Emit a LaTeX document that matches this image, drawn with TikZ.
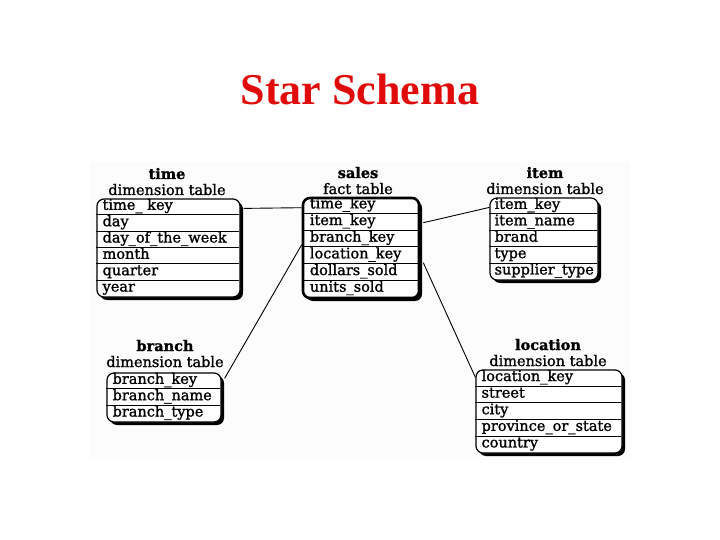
\documentclass[tikz,border=0pt]{standalone}
\usepackage{fontspec}
\usetikzlibrary{calc}
\newfontfamily\titlefont{Liberation Serif}
\newfontfamily\tabfont[FakeBold=1.3]{DejaVu Serif}
\definecolor{titlered}{RGB}{225,10,10}
\definecolor{scanbg}{RGB}{252,252,252}
\tikzset{
  tbox/.style={draw=black, line width=1.2pt, fill=white, rounded corners=7pt, inner sep=0pt},
  shadowbox/.style={fill=black, rounded corners=7pt, draw=none, inner sep=0pt},
  rowtext/.style={anchor=base west, inner sep=0pt,
    font=\tabfont\fontsize{14.5}{14.5}\selectfont},
  head/.style={inner sep=0pt, anchor=base, font=\tabfont\fontsize{14.5}{14.5}\selectfont},
  sep/.style={line width=0.6pt},
  link/.style={line width=0.9pt},
}
\newcommand\mktable[9]{%
  \node[shadowbox, minimum width=#4, minimum height=#5] at (#2+3,#3+3) {};
  \node[tbox, minimum width=#4, minimum height=#5, #8] (#1) at (#2,#3) {};
  \pgfmathsetmacro\rh{#5/#6}
  \foreach \t [count=\i] in {#7} {
    \node[rowtext] at ($(#1.north west)+(#9,{(\i-0.3)*\rh})$) {\t};
  }
  \pgfmathtruncatemacro\nsep{#6-1}
  \foreach \i in {1,...,\nsep} {
    \draw[sep] ($(#1.north west)+(0,{\i*\rh})$) -- ++(#4,0);
  }
}
\begin{document}
\begin{tikzpicture}[x=1pt,y=-1pt]
\useasboundingbox (0,0) rectangle (720,540);
\fill[scanbg] (90,162) rectangle (630,460);
\node[anchor=base, inner sep=0pt, text=titlered, font=\titlefont\bfseries\fontsize{44}{44}\selectfont] (title) at (360,105) {Star Schema};

% headers
\node[head] (h1a) at (167,179) {\textbf{time}};
\node[head] (h1b) at (167,195) {dimension table};
\node[head] (h2a) at (358,178) {\textbf{sales}};
\node[head] (h2b) at (358,194) {fact table};
\node[head] (h3a) at (545,178) {\textbf{item}};
\node[head] (h3b) at (545,194) {dimension table};
\node[head] (h4a) at (165,351) {\textbf{branch}};
\node[head] (h4b) at (165,367) {dimension table};
\node[head] (h5a) at (548,350) {\textbf{location}};
\node[head] (h5b) at (548,366) {dimension table};

% tables
\mktable{time}{168.5}{248}{143}{98}{6}{time\_ key,day,day\_of\_the\_week,month,quarter,year}{}{6}
\mktable{sales}{361}{248}{116}{100}{6}{time\_key,item\_key,branch\_key,location\_key,dollars\_sold,units\_sold}{line width=2.6pt}{8}
\mktable{item}{544}{239}{108}{82}{5}{item\_key,item\_name,brand,type,supplier\_type}{}{5}
\mktable{branch}{164}{397.5}{114}{49}{3}{branch\_key,branch\_name,branch\_type}{}{6}
\mktable{location}{549}{411.5}{146}{83}{5}{location\_key,street,city,province\_or\_state,country}{}{6}

% connectors
\draw[link] ($(time.north east)+(3,10)$) -- ($(sales.north west)+(0,11)$);
\draw[link] ($(sales.north east)+(3,26)$) -- ($(item.north west)+(0,10)$);
\draw[link] ($(sales.north west)+(0,48)$) -- ($(branch.north east)+(3,6)$);
\draw[link] ($(sales.north east)+(3,66)$) -- ($(location.north west)+(0,8)$);
\end{tikzpicture}
\end{document}
